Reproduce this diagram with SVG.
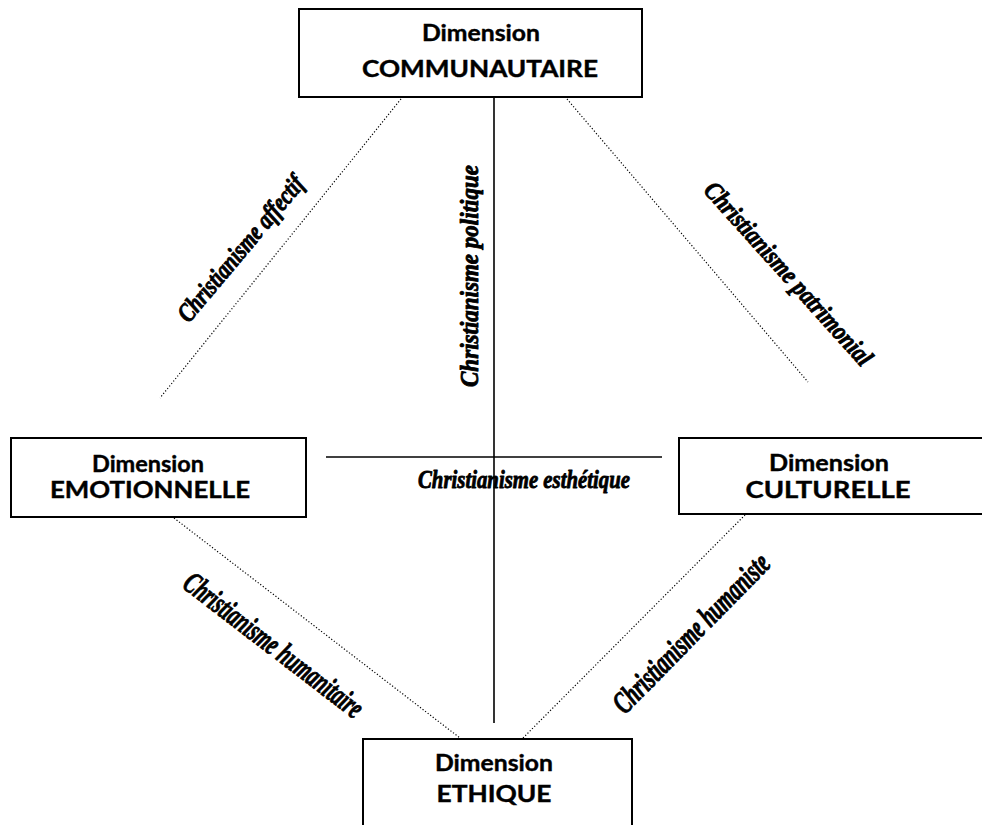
<svg xmlns="http://www.w3.org/2000/svg" width="982" height="825" viewBox="0 0 982 825">
<style>
.box{fill:#fff;stroke:#000;stroke-width:2}
.t{font-family:Lato,"Open Sans","Liberation Sans",sans-serif;font-weight:bold;font-size:23px;fill:#000;stroke:#000;stroke-width:0.4;text-anchor:middle}
.lab{font-family:"Liberation Serif","DejaVu Serif",serif;font-weight:bold;font-style:italic;font-size:26px;fill:#000;stroke:#000;stroke-width:0.9;stroke-linejoin:round;text-anchor:middle}
.solid{stroke:#000;stroke-width:1.6;fill:none}
.dot{stroke:#000;stroke-width:1.2;stroke-dasharray:1.2 2;fill:none}
</style>
<rect width="982" height="825" fill="#fff"/>
<g id="labels">
<text class="lab" transform="translate(241,249) rotate(-50)" y="8" textLength="182" lengthAdjust="spacingAndGlyphs">Christianisme affectif</text>
<text class="lab" transform="translate(478,276) rotate(-90)" textLength="222" lengthAdjust="spacingAndGlyphs">Christianisme politique</text>
<text class="lab" transform="translate(788,274) rotate(48)" y="8" textLength="238" lengthAdjust="spacingAndGlyphs">Christianisme patrimonial</text>
<text class="lab" x="524" y="488" textLength="212" lengthAdjust="spacingAndGlyphs">Christianisme esthétique</text>
<text class="lab" style="font-size:31px" transform="translate(273,646) rotate(37.5)" y="9" textLength="218" lengthAdjust="spacingAndGlyphs">Christianisme humanitaire</text>
<text class="lab" style="font-size:31px" transform="translate(692,634) rotate(-45.5)" y="9" textLength="210" lengthAdjust="spacingAndGlyphs">Christianisme humaniste</text>
</g>
<g id="connectors">
<line class="solid" x1="494" y1="97" x2="494" y2="723"/>
<line class="solid" x1="326" y1="457" x2="662" y2="457"/>
<line class="dot" x1="401" y1="99" x2="160" y2="398"/>
<line class="dot" x1="567" y1="99" x2="808" y2="382"/>
<line class="dot" x1="174" y1="518" x2="460" y2="738"/>
<line class="dot" x1="523" y1="738" x2="745" y2="515"/>
</g>
<g id="node-communautaire">
<rect class="box" x="299" y="9" width="343" height="88"/>
<text class="t" x="481" y="41" textLength="118" lengthAdjust="spacingAndGlyphs">Dimension</text>
<text class="t" x="480" y="77" textLength="236" lengthAdjust="spacingAndGlyphs">COMMUNAUTAIRE</text>
</g>
<g id="node-emotionnelle">
<rect class="box" x="11" y="438" width="295" height="79"/>
<text class="t" x="148" y="472" textLength="112" lengthAdjust="spacingAndGlyphs">Dimension</text>
<text class="t" x="150" y="498" textLength="200" lengthAdjust="spacingAndGlyphs">EMOTIONNELLE</text>
</g>
<g id="node-culturelle">
<rect class="box" x="679" y="438" width="320" height="76"/>
<text class="t" x="829" y="471" textLength="120" lengthAdjust="spacingAndGlyphs">Dimension</text>
<text class="t" x="828" y="498" textLength="165" lengthAdjust="spacingAndGlyphs">CULTURELLE</text>
</g>
<g id="node-ethique">
<rect class="box" x="363" y="739" width="269" height="100"/>
<text class="t" x="494" y="771" textLength="118" lengthAdjust="spacingAndGlyphs">Dimension</text>
<text class="t" x="494" y="802" textLength="115" lengthAdjust="spacingAndGlyphs">ETHIQUE</text>
</g>
</svg>
